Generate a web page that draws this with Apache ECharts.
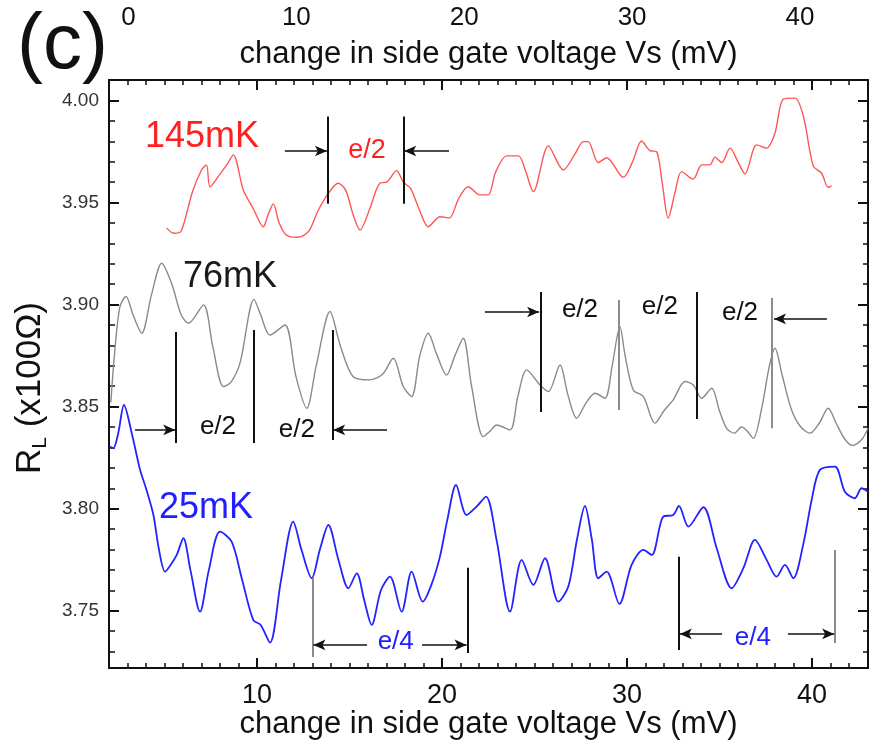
<!DOCTYPE html>
<html><head><meta charset="utf-8">
<script src="https://cdn.jsdelivr.net/npm/echarts@6/dist/echarts.min.js"></script>
<style>html,body{margin:0;padding:0;background:#fff}#c{width:870px;height:745px}</style>
</head><body><div id="c"></div>
<script>
const FONT = "'Liberation Sans', Arial, Helvetica, sans-serif";

// ---- axes ----
const X_MIN = 2, X_MAX = 43.03;
const TOP_MIN = -1.16, TOP_MAX = 44.05;
const Y_MIN = 3.7219, Y_MAX = 4.0101;
const xMajorTicks = [10, 20, 30, 40];
const xMinorTicks = [3,4,5,6,7,8,9,11,12,13,14,15,16,17,18,19,21,22,23,24,25,26,27,28,29,31,32,33,34,35,36,37,38,39,41,42,43];
const xTopLabels = [0, 10, 20, 30, 40];
const yTicks = [3.75, 3.80, 3.85, 3.90, 3.95, 4.00];
const yMinorTicks = [3.73,3.74,3.76,3.77,3.78,3.79,3.81,3.82,3.83,3.84,3.86,3.87,3.88,3.89,3.91,3.92,3.93,3.94,3.96,3.97,3.98,3.99,4.01];

// ---- 145 mK ----
const redX = [5.12,5.5,5.9,6.5,7.0,7.27,7.46,8.0,8.4,8.72,9.26,9.8,10.34,10.6,10.88,11.2,11.6,12.2,12.8,13.3,13.82,14.39,14.8,15.2,15.57,16.1,16.65,17.0,17.55,17.91,18.3,18.8,19.26,19.9,20.4,20.9,21.42,22.05,22.5,22.9,23.5,24.13,24.5,24.94,25.75,26.56,27.2,27.64,27.9,28.45,28.9,29.8,30.3,30.79,31.24,31.6,31.9,32.23,32.6,32.95,33.58,34.04,34.48,34.76,35.12,35.57,36.0,36.38,37.01,37.55,38.0,38.45,39.08,39.54,40.07,40.52,40.88,41.06];
const redY = [3.9375,3.9350,3.9360,3.9550,3.9660,3.9685,3.9578,3.9640,3.9690,3.9734,3.9562,3.9470,3.9382,3.9440,3.9494,3.9400,3.9340,3.9330,3.9360,3.9460,3.9540,3.9595,3.9560,3.9440,3.9366,3.9470,3.9596,3.9600,3.9657,3.9600,3.9570,3.9460,3.9382,3.9431,3.9425,3.9520,3.9578,3.9538,3.9538,3.9650,3.9729,3.9729,3.9660,3.9554,3.9778,3.9660,3.9740,3.9799,3.9799,3.9696,3.9720,3.9624,3.9700,3.9802,3.9755,3.9750,3.9600,3.9424,3.9550,3.9652,3.9615,3.9685,3.9685,3.9723,3.9696,3.9767,3.9700,3.9641,3.9783,3.9767,3.9840,4.0007,4.0012,3.9922,3.9680,3.9644,3.9575,3.9582];

// ---- 76 mK ----
const grayX = [2.1,2.3,2.59,2.92,3.3,3.77,4.3,4.85,5.4,5.9,6.3,7.11,7.6,8.19,8.6,9.08,9.84,10.2,10.7,11.51,12.1,12.69,13.2,13.95,14.5,15.2,16.11,16.8,17.37,17.9,18.36,18.8,19.26,19.7,20.25,20.7,21.15,21.6,22.23,22.6,22.95,23.68,24.1,24.58,25.3,25.75,26.38,26.8,27.28,27.8,28.27,28.81,29.2,29.62,29.9,30.34,30.89,31.51,32.0,32.5,33.14,33.59,34.04,34.58,35.0,35.39,35.8,36.2,36.5,36.83,37.3,37.7,38.0,38.4,38.9,39.4,39.89,40.4,40.88,41.3,41.78,42.2,42.7,43.03];
const grayY = [3.8520,3.8760,3.8990,3.9040,3.8950,3.8860,3.9050,3.9203,3.9100,3.8950,3.8909,3.8999,3.8800,3.8598,3.8620,3.8713,3.9026,3.8950,3.8851,3.8900,3.8650,3.8492,3.8700,3.8966,3.8800,3.8647,3.8631,3.8660,3.8737,3.8600,3.8549,3.8750,3.8860,3.8760,3.8655,3.8750,3.8835,3.8600,3.8353,3.8380,3.8410,3.8386,3.8550,3.8680,3.8606,3.8574,3.8704,3.8560,3.8443,3.8520,3.8566,3.8541,3.8700,3.8892,3.8750,3.8582,3.8549,3.8419,3.8480,3.8533,3.8623,3.8606,3.8541,3.8590,3.8480,3.8394,3.8370,3.8400,3.8380,3.8345,3.8500,3.8700,3.8786,3.8650,3.8484,3.8400,3.8370,3.8420,3.8492,3.8420,3.8340,3.8310,3.8340,3.8394];

// ---- 25 mK ----
const blueX = [2.05,2.23,2.5,2.81,3.23,3.68,4.0,4.4,4.7,5.03,5.3,5.66,6.02,6.4,6.92,7.4,8.0,8.63,9.2,9.8,10.2,10.7,11.3,11.96,12.4,12.96,13.4,13.86,14.4,14.94,15.39,15.8,16.2,16.7,17.19,17.82,18.36,18.96,19.4,19.89,20.3,20.76,21.33,21.87,22.38,22.95,23.68,24.31,24.94,25.57,26.29,26.83,27.3,27.73,28.1,28.45,28.9,29.59,30.25,30.89,31.34,31.96,32.5,32.81,33.32,34.13,34.85,35.66,36.29,36.92,37.55,38.09,38.54,38.99,39.54,40.0,40.43,41.24,41.78,42.32,42.68,43.03];
const blueY = [3.8304,3.8296,3.8370,3.8508,3.8370,3.8190,3.8100,3.7969,3.7800,3.7691,3.7720,3.7773,3.7855,3.7700,3.7495,3.7700,3.7887,3.7838,3.7650,3.7454,3.7430,3.7343,3.7650,3.7936,3.7800,3.7659,3.7800,3.7920,3.7750,3.7610,3.7683,3.7550,3.7430,3.7600,3.7667,3.7495,3.7691,3.7544,3.7620,3.7765,3.7950,3.8116,3.7969,3.8010,3.8059,3.7847,3.7495,3.7749,3.7626,3.7757,3.7544,3.7618,3.7850,3.8013,3.7850,3.7659,3.7691,3.7533,3.7724,3.7798,3.7773,3.7961,3.7969,3.8013,3.7912,3.8007,3.7806,3.7610,3.7708,3.7847,3.7749,3.7667,3.7724,3.7659,3.7830,3.8050,3.8190,3.8206,3.8083,3.8051,3.8100,3.8083];

// ---- annotations (data coordinates) ----
// vertical bars: [x, yTop, yBottom]
const bars145 = [[13.82, 3.9922, 3.9494], [17.91, 3.9922, 3.9494]];
const bars76 = [[5.62, 3.8866, 3.8322], [9.84, 3.8876, 3.8322], [14.07, 3.8876, 3.8336],
                [25.34, 3.9062, 3.8474], [29.57, 3.9023, 3.8484], [33.78, 3.9062, 3.8440], [37.82, 3.9033, 3.8394]];
const bars25 = [[13.0, 3.7660, 3.7273], [21.39, 3.7710, 3.7293], [32.81, 3.7764, 3.7307], [41.24, 3.7797, 3.7342]];
const grayBarX = [29.57, 37.82, 13.0, 41.24];
// arrows: [xFrom, xTo, y]
const arrows145 = [[11.51, 13.78, 3.9753], [20.38, 17.96, 3.9753]];
const arrows76 = [[3.41, 5.58, 3.8386], [17.03, 14.12, 3.8386], [22.32, 25.25, 3.8964], [40.81, 37.95, 3.8930]];
const arrows25 = [[15.95, 13.05, 3.7332], [18.92, 21.33, 3.7332], [35.14, 32.86, 3.7386], [38.70, 41.20, 3.7386]];
// text: [x, y, text]
const texts145 = [[15.95, 3.9753, 'e/2']];
const texts76 = [[7.89, 3.8400, 'e/2'], [12.16, 3.8386, 'e/2'], [27.46, 3.8974, 'e/2'], [31.78, 3.8989, 'e/2'], [36.11, 3.8960, 'e/2']];
const texts25 = [[17.50, 3.7348, 'e/4'], [36.81, 3.7366, 'e/4']];
const curveLabels = [[7.03, 3.9822, '145mK'], [8.54, 3.9136, '76mK'], [7.24, 3.8003, '25mK']];

const RED = '#ff5555', GRAY = '#8a8a8a', BLUE = '#2323ff', INK = '#111';

function pairs(xs, ys) { return xs.map((x, i) => [x, ys[i]]); }

function markLines(bars, arrows) {
  const d = [];
  bars.forEach(b => {
    const c = grayBarX.indexOf(b[0]) >= 0 ? '#8c8c8c' : INK;
    d.push([{ coord: [b[0], b[1]], symbol: 'none', lineStyle: { color: c, width: 2, type: 'solid' } },
            { coord: [b[0], b[2]], symbol: 'none' }]);
  });
  arrows.forEach(a => {
    d.push([{ coord: [a[0], a[2]], symbol: 'none', lineStyle: { color: INK, width: 1.5, type: 'solid' } },
            { coord: [a[1], a[2]], symbol: 'arrow', symbolSize: [8, 12] }]);
  });
  return { silent: true, animation: false, symbol: ['none', 'none'], label: { show: false },
           emphasis: { disabled: true }, data: d };
}

function markTexts(texts, color, size) {
  return texts.map(t => ({ coord: [t[0], t[1]], name: t[2],
    label: { color: color, fontSize: size } }));
}

function markPoints(items) {
  return { silent: true, animation: false, symbol: 'circle', symbolSize: 1,
    itemStyle: { color: 'rgba(0,0,0,0)' },
    label: { show: true, position: 'inside', formatter: p => p.name, fontFamily: FONT },
    emphasis: { disabled: true }, data: items };
}

const xBase = { type: 'value', min: X_MIN, max: X_MAX, splitLine: { show: false } };
const yBase = { type: 'value', min: Y_MIN, max: Y_MAX, splitLine: { show: false }, scale: true };
const axLine = { show: true, onZero: false, lineStyle: { color: INK, width: 2 } };
const noLine = { show: false, onZero: false };

const option = {
  animation: false,
  backgroundColor: '#fff',
  title: { text: '(c)', left: 12, top: 2,
    textStyle: { fontSize: 78, fontWeight: 'normal', fontFamily: FONT, color: INK } },
  grid: { left: 109, right: 2, top: 80, bottom: 77, containLabel: false, outerBoundsMode: 'none' },
  xAxis: [
    Object.assign({}, xBase, { position: 'bottom', axisLine: axLine,
      axisTick: { show: true, inside: true, length: 10, customValues: xMajorTicks, lineStyle: { color: INK, width: 2 } },
      axisLabel: { show: true, customValues: xMajorTicks, margin: 15, fontSize: 27, lineHeight: 26, color: INK, fontFamily: FONT },
      name: 'change in side gate voltage Vs (mV)', nameLocation: 'middle', nameGap: 41, nameMoveOverlap: false,
      nameTextStyle: { fontSize: 31, color: INK, fontFamily: FONT } }),
    Object.assign({}, xBase, { position: 'bottom', axisLine: noLine,
      axisTick: { show: true, inside: true, length: 5, customValues: xMinorTicks, lineStyle: { color: INK, width: 1.5 } },
      axisLabel: { show: false } }),
    Object.assign({}, xBase, { position: 'top', axisLine: axLine,
      axisTick: { show: true, inside: true, length: 10, customValues: xMajorTicks, lineStyle: { color: INK, width: 2 } },
      axisLabel: { show: false },
      name: 'change in side gate voltage Vs (mV)', nameLocation: 'middle', nameGap: 10,
      nameTextStyle: { fontSize: 31, color: INK, fontFamily: FONT } }),
    Object.assign({}, xBase, { position: 'top', axisLine: noLine,
      axisTick: { show: true, inside: true, length: 5, customValues: xMinorTicks, lineStyle: { color: INK, width: 1.5 } },
      axisLabel: { show: false } }),
    { type: 'value', position: 'top', min: TOP_MIN, max: TOP_MAX, splitLine: { show: false },
      axisLine: noLine, axisTick: { show: false },
      axisLabel: { show: true, customValues: xTopLabels, margin: 49, fontSize: 26, color: INK, fontFamily: FONT } }
  ],
  yAxis: [
    Object.assign({}, yBase, { position: 'left', axisLine: axLine,
      axisTick: { show: true, inside: true, length: 10, customValues: yTicks, lineStyle: { color: INK, width: 2 } },
      axisLabel: { show: true, customValues: yTicks, margin: 10, fontSize: 19, color: '#333', fontFamily: FONT,
        formatter: v => Number(v).toFixed(2) },
      name: '{r|R}{s|L}{r| (x100Ω)}', nameLocation: 'middle', nameRotate: 90, nameGap: 56,
      nameTextStyle: { fontFamily: FONT, color: INK, padding: [0, 28, 0, 0],
        rich: { r: { fontSize: 35, lineHeight: 42, fontFamily: FONT, color: INK },
                s: { fontSize: 21, lineHeight: 23, verticalAlign: 'bottom', fontFamily: FONT, color: INK } } } }),
    Object.assign({}, yBase, { position: 'left', axisLine: noLine,
      axisTick: { show: true, inside: true, length: 6, customValues: yMinorTicks, lineStyle: { color: INK, width: 1.5 } },
      axisLabel: { show: false } }),
    Object.assign({}, yBase, { position: 'right', axisLine: axLine,
      axisTick: { show: true, inside: true, length: 10, customValues: yTicks, lineStyle: { color: INK, width: 2 } },
      axisLabel: { show: false } }),
    Object.assign({}, yBase, { position: 'right', axisLine: noLine,
      axisTick: { show: true, inside: true, length: 5, customValues: yMinorTicks, lineStyle: { color: INK, width: 1.5 } },
      axisLabel: { show: false } })
  ],
  series: [
    { name: '145mK', type: 'line', xAxisIndex: 0, yAxisIndex: 0, data: pairs(redX, redY),
      symbol: 'none', showSymbol: false, smooth: 0.3, lineStyle: { color: RED, width: 1.4 },
      markLine: markLines(bars145, arrows145),
      markPoint: markPoints(markTexts(texts145, '#ff2020', 27).concat(
        [{ coord: [curveLabels[0][0], curveLabels[0][1]], name: curveLabels[0][2], label: { color: '#ff2020', fontSize: 36 } }])) },
    { name: '76mK', type: 'line', xAxisIndex: 0, yAxisIndex: 0, data: pairs(grayX, grayY),
      symbol: 'none', showSymbol: false, smooth: 0.3, lineStyle: { color: GRAY, width: 1.4 },
      markLine: markLines(bars76, arrows76),
      markPoint: markPoints(markTexts(texts76, INK, 26).concat(
        [{ coord: [curveLabels[1][0], curveLabels[1][1]], name: curveLabels[1][2], label: { color: '#1a1a1a', fontSize: 36 } }])) },
    { name: '25mK', type: 'line', xAxisIndex: 0, yAxisIndex: 0, data: pairs(blueX, blueY),
      symbol: 'none', showSymbol: false, smooth: 0.3, lineStyle: { color: BLUE, width: 1.8 },
      markLine: markLines(bars25, arrows25),
      markPoint: markPoints(markTexts(texts25, '#2020ff', 26).concat(
        [{ coord: [curveLabels[2][0], curveLabels[2][1]], name: curveLabels[2][2], label: { color: '#2020ff', fontSize: 36 } }])) }
  ]
};

const chart = echarts.init(document.getElementById('c'), null, { renderer: 'canvas' });
chart.setOption(option);
</script>
</body></html>
